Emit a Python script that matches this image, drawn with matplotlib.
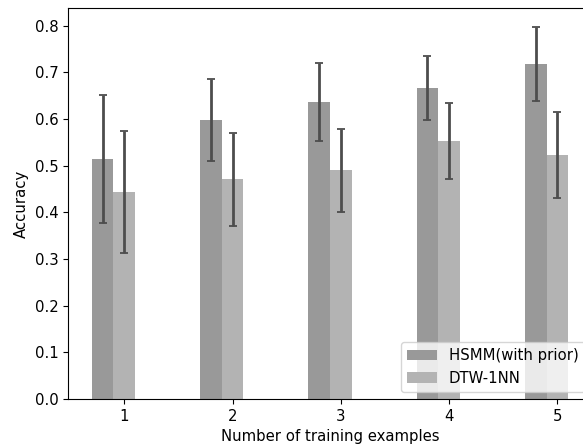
import matplotlib

matplotlib.use("Agg")
import matplotlib.pyplot as plt
import numpy as np

n_examples = [1, 2, 3, 4, 5]
hsmm_acc = [0.514, 0.597, 0.637, 0.666, 0.718]
hsmm_err = [0.137, 0.088, 0.084, 0.069, 0.080]
dtw_acc = [0.444, 0.471, 0.490, 0.553, 0.522]
dtw_err = [0.131, 0.100, 0.089, 0.081, 0.092]

plt.rcParams["font.size"] = 10.7

x = np.array(n_examples, dtype=float)
width = 0.2

fig = plt.figure(figsize=(5.83, 4.46), dpi=100)
# axes run past the right edge of the canvas, as in the cropped original
ax = fig.add_axes([68 / 583, 47 / 446, 524 / 583, 391 / 446])

err_kw = dict(ecolor="#4d4d4d", elinewidth=2, capsize=3, capthick=1.3)
ax.bar(x - width, hsmm_acc, width, yerr=hsmm_err, color="#999999",
       label="HSMM(with prior)", error_kw=err_kw)
ax.bar(x, dtw_acc, width, yerr=dtw_err, color="#b3b3b3",
       label="DTW-1NN", error_kw=err_kw)

ax.set_xticks(x)
ax.set_xticklabels([str(n) for n in n_examples])
ax.set_xlabel("Number of training examples")
ax.set_ylabel("Accuracy")
ax.legend(loc="lower right")

plt.savefig("out.png", dpi=100)
plt.close(fig)
